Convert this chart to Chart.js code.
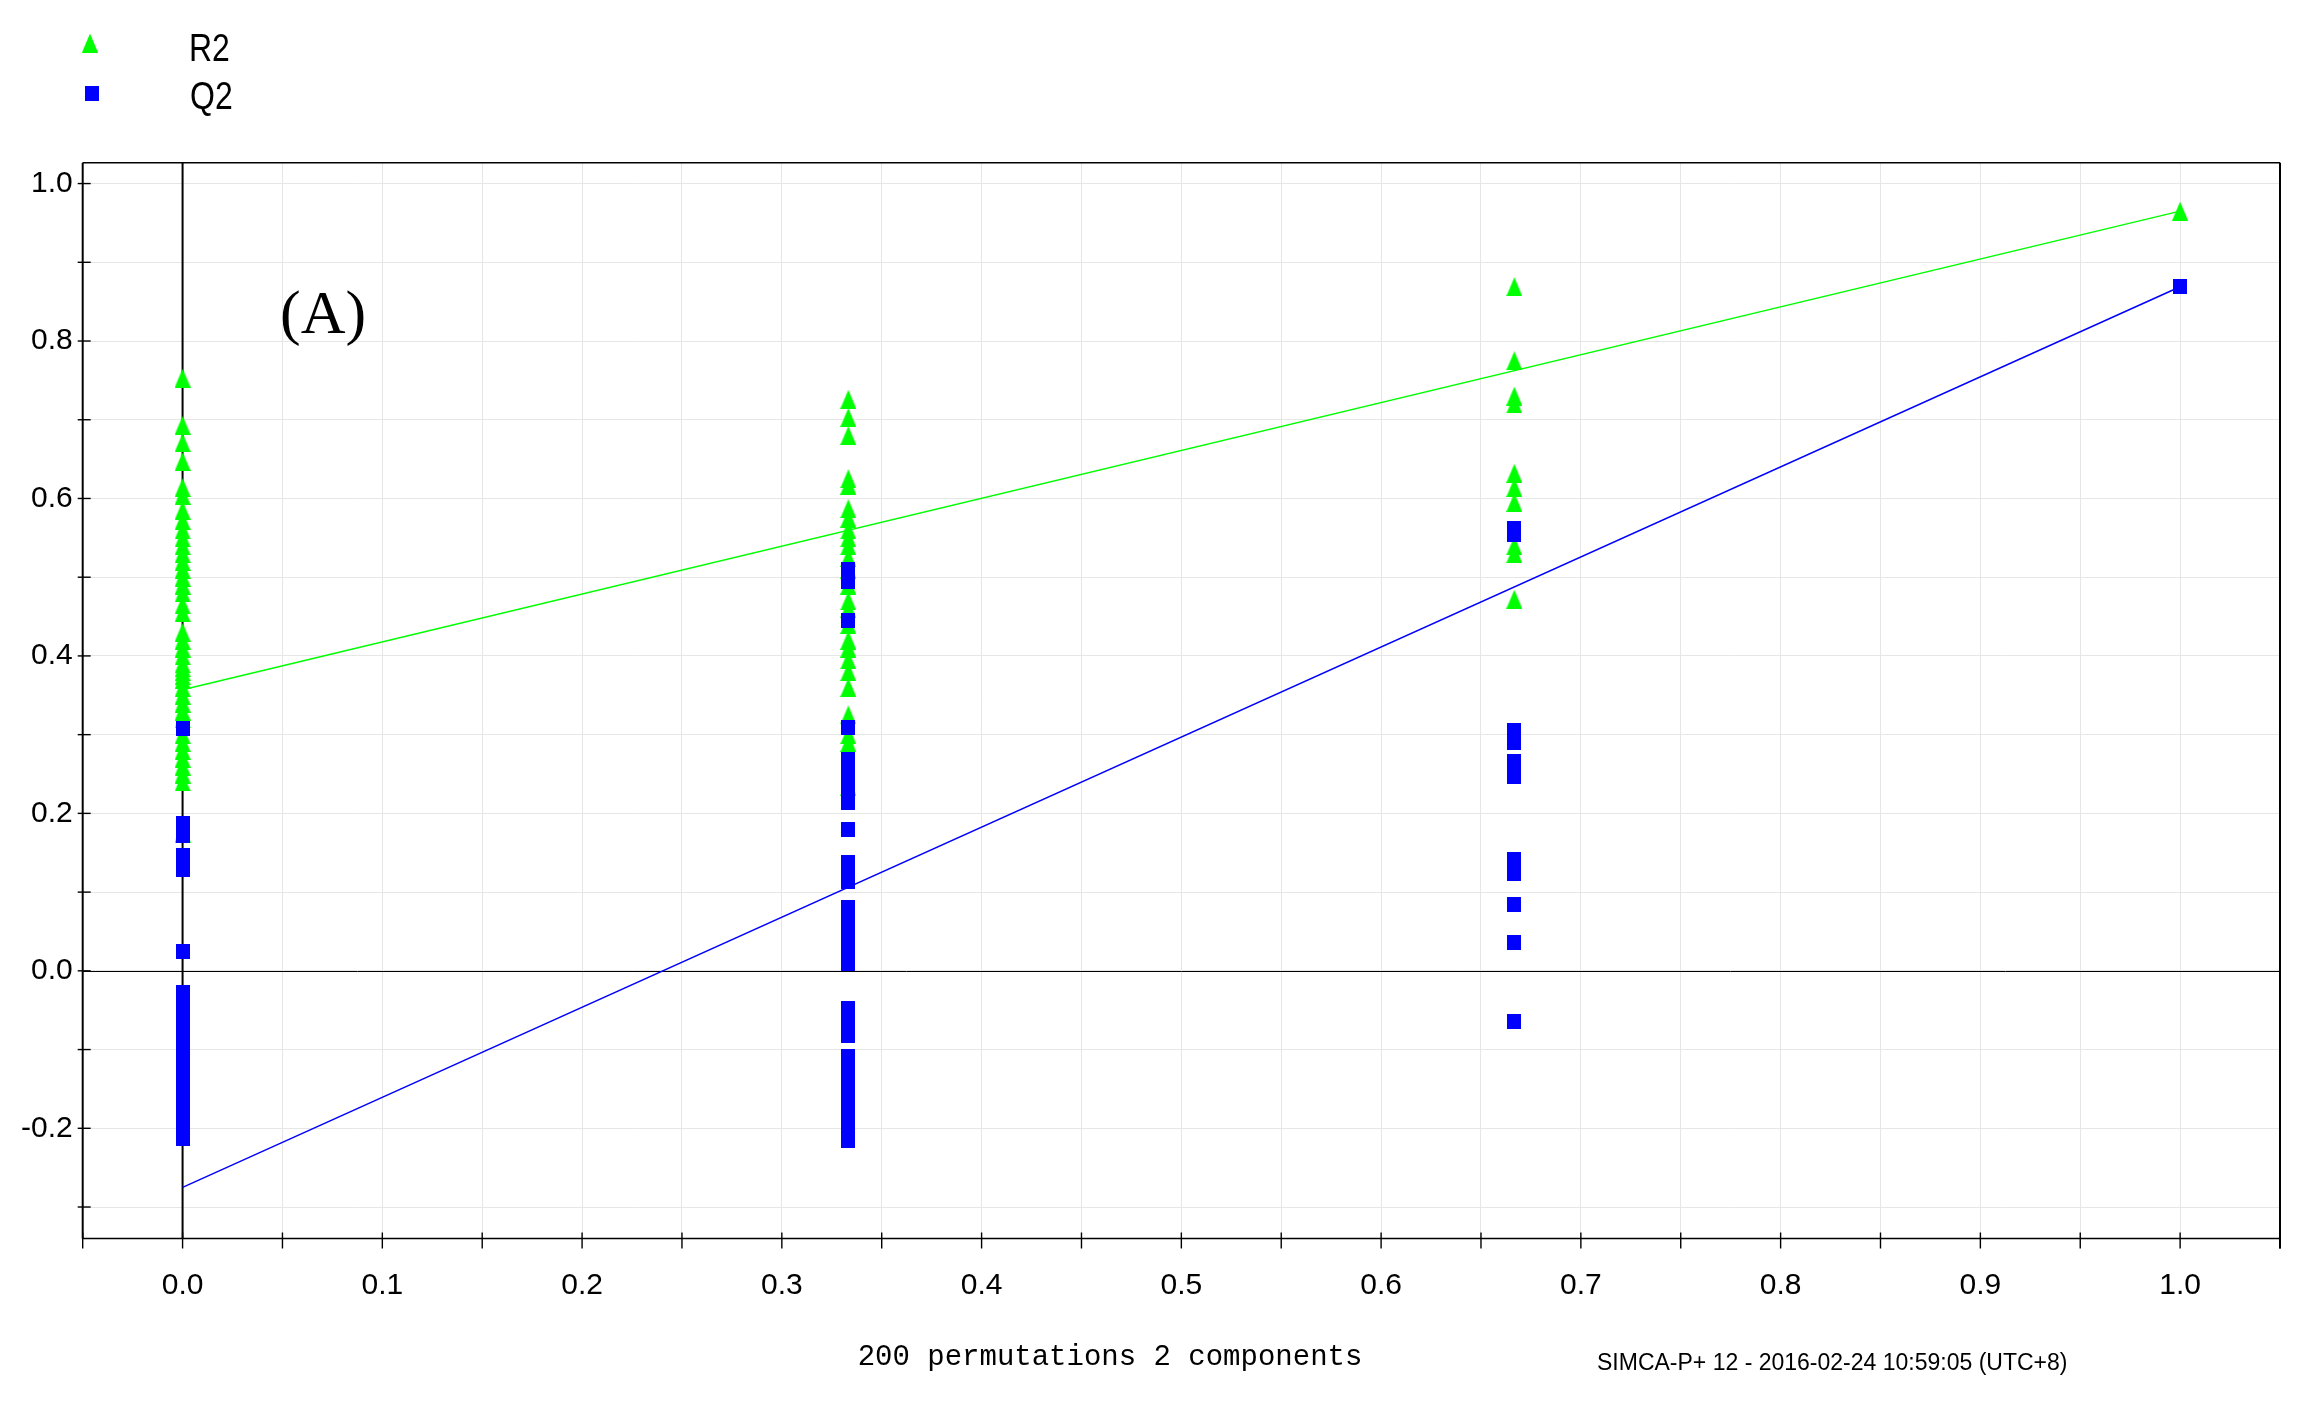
<!DOCTYPE html>
<html><head><meta charset="utf-8">
<script src="https://cdn.jsdelivr.net/npm/chart.js@4/dist/chart.umd.min.js"></script>
<style>html,body{margin:0;padding:0;background:#fff;} #wrap{position:relative;width:2312px;height:1407px;} canvas{display:block}</style>
</head><body><div id="wrap"><canvas id="c" width="2312" height="1407"></canvas></div>
<script>
// ---- data ----
const permX = [0, 0.3333, 0.6667, 1.0];
const r2Col0 = [0.753, 0.693, 0.671, 0.647, 0.614, 0.604, 0.585, 0.572, 0.56, 0.55, 0.54, 0.53, 0.52, 0.51, 0.50, 0.49, 0.48, 0.465, 0.455, 0.43, 0.42, 0.41, 0.40, 0.39, 0.385, 0.38, 0.375, 0.37, 0.36, 0.35, 0.34, 0.33, 0.32, 0.30, 0.29, 0.28, 0.27, 0.26, 0.25, 0.24, 0.175];
const q2Col0 = [0.308, 0.187, 0.172, 0.146, 0.129, 0.025, -0.028, -0.04, -0.053, -0.066, -0.08, -0.093, -0.106, -0.12, -0.133, -0.147, -0.16, -0.173, -0.186, -0.2, -0.213];
const r2Col1 = [0.726, 0.703, 0.68, 0.625, 0.617, 0.587, 0.575, 0.56, 0.55, 0.54, 0.525, 0.51, 0.49, 0.47, 0.46, 0.44, 0.42, 0.41, 0.395, 0.38, 0.36, 0.325, 0.30, 0.29, 0.234];
const q2Col1 = [0.51, 0.495, 0.445, 0.309, 0.268, 0.255, 0.241, 0.228, 0.214, 0.179, 0.138, 0.126, 0.114, 0.081, 0.068, 0.055, 0.042, 0.03, 0.02, 0.009, -0.048, -0.065, -0.082, -0.109, -0.122, -0.136, -0.15, -0.163, -0.177, -0.19, -0.203, -0.215];
const r2Col2 = [0.869, 0.775, 0.73, 0.72, 0.632, 0.614, 0.595, 0.54, 0.53, 0.472];
const q2Col2 = [0.562, 0.554, 0.305, 0.29, 0.266, 0.247, 0.141, 0.124, 0.084, 0.036, -0.064];
const r2Col3 = [0.965];
const q2Col3 = [0.869];
const r2Intercept = 0.357;
const q2Intercept = -0.275;
const xTickValues = [-0.05,0,0.05,0.1,0.15,0.2,0.25,0.3,0.35,0.4,0.45,0.5,0.55,0.6,0.65,0.7,0.75,0.8,0.85,0.9,0.95,1.0,1.05];
const xTickLabels = ['', '0.0','', '0.1','', '0.2','', '0.3','', '0.4','', '0.5','', '0.6','', '0.7','', '0.8','', '0.9','', '1.0',''];
const yTickValues = [-0.3,-0.2,-0.1,0,0.1,0.2,0.3,0.4,0.5,0.6,0.7,0.8,0.9,1.0];
const yTickLabels = ['', '-0.2','', '0.0','', '0.2','', '0.4','', '0.6','', '0.8','', '1.0'];
const legendLabels = ['R2', 'Q2'];
const xTitle = '200 permutations 2 components';
const stamp = 'SIMCA-P+ 12 - 2016-02-24 10:59:05 (UTC+8)';
const panelLabel = '(A)';

// ---- marker images ----
const GREEN = '#00ff00', BLUE = '#0000ff';
function triImg() {
  const c = document.createElement('canvas'); c.width = 16; c.height = 19;
  const x = c.getContext('2d'); x.fillStyle = GREEN;
  x.beginPath(); x.moveTo(8, 0); x.lineTo(16, 19); x.lineTo(0, 19); x.closePath(); x.fill();
  return c;
}
function sqImg() {
  const c = document.createElement('canvas'); c.width = 14; c.height = 15;
  const x = c.getContext('2d'); x.fillStyle = BLUE; x.fillRect(0, 0, 14, 15);
  return c;
}
const TRI = triImg(), SQ = sqImg();

const r2Cols = [r2Col0, r2Col1, r2Col2, r2Col3];
const q2Cols = [q2Col0, q2Col1, q2Col2, q2Col3];
const r2Pts = [].concat(...permX.map((x, i) => r2Cols[i].map(y => ({x, y}))));
const q2Pts = [].concat(...permX.map((x, i) => q2Cols[i].map(y => ({x, y}))));
const r2Line = [{x: 0, y: r2Intercept}, {x: permX[3], y: r2Col3[0]}];
const q2Line = [{x: 0, y: q2Intercept}, {x: permX[3], y: q2Col3[0]}];

function stretchedText(ctx, text, x, y, sy) {
  ctx.save(); ctx.translate(x, y); ctx.scale(1, sy); ctx.fillText(text, 0, 0); ctx.restore();
}

const framePlugin = {
  id: 'frame',
  beforeDatasetsDraw(chart) {
    const {ctx, chartArea: a, scales: {x, y}} = chart;
    ctx.save();
    ctx.strokeStyle = '#000';
    const x0 = x.getPixelForValue(0), y0 = y.getPixelForValue(0);
    ctx.lineWidth = 2;
    ctx.beginPath(); ctx.moveTo(x0, a.top); ctx.lineTo(x0, a.bottom); ctx.stroke();
    ctx.lineWidth = 1;
    ctx.beginPath(); ctx.moveTo(a.left, Math.round(y0) + 0.5); ctx.lineTo(a.right, Math.round(y0) + 0.5); ctx.stroke();
    ctx.restore();
  },
  afterDatasetsDraw(chart) {
    const {ctx, chartArea: a, scales: {x, y}} = chart;
    ctx.save();
    ctx.strokeStyle = '#000';
    ctx.lineWidth = 1.4;
    ctx.beginPath(); ctx.moveTo(a.left, a.top); ctx.lineTo(a.right, a.top); ctx.stroke();
    ctx.beginPath(); ctx.moveTo(a.left, a.bottom); ctx.lineTo(a.right, a.bottom); ctx.stroke();
    ctx.lineWidth = 2;
    ctx.beginPath(); ctx.moveTo(a.left, a.top); ctx.lineTo(a.left, a.bottom); ctx.stroke();
    ctx.beginPath(); ctx.moveTo(a.right, a.top); ctx.lineTo(a.right, a.bottom + 10); ctx.stroke();
    ctx.lineWidth = 1.4;
    y.ticks.forEach(t => {
      const p = y.getPixelForValue(t.value);
      ctx.beginPath(); ctx.moveTo(a.left - 5, p); ctx.lineTo(a.left + 8, p); ctx.stroke();
    });
    x.ticks.forEach(t => {
      const p = x.getPixelForValue(t.value);
      ctx.beginPath(); ctx.moveTo(p, a.bottom - 6); ctx.lineTo(p, a.bottom + 10); ctx.stroke();
    });
    ctx.restore();
  },
  afterDraw(chart) {
    const ctx = chart.ctx;
    ctx.save();
    ctx.drawImage(TRI, 90 - 8, 43 - 9.5);
    ctx.drawImage(SQ, 91.5 - 7, 93 - 7.5);
    ctx.fillStyle = '#000';
    ctx.font = '32px "Liberation Sans", Arial, sans-serif';
    ctx.textBaseline = 'alphabetic'; ctx.textAlign = 'left';
    stretchedText(ctx, legendLabels[0], 189, 61, 1.2);
    stretchedText(ctx, legendLabels[1], 190, 109, 1.2);
    ctx.font = '62px "Liberation Serif", "Times New Roman", serif';
    ctx.fillText(panelLabel, 280, 333);
    ctx.font = '29px "Liberation Mono", "Courier New", monospace';
    ctx.textAlign = 'center';
    ctx.fillText(xTitle, 1110, 1365);
    ctx.font = '23px "Liberation Sans", Arial, sans-serif';
    ctx.textAlign = 'left';
    ctx.fillText(stamp, 1597, 1370);
    ctx.restore();
  }
};

new Chart(document.getElementById('c'), {
  type: 'scatter',
  data: {
    datasets: [
      {label: 'Q2', data: q2Pts, pointStyle: SQ, pointRadius: 7, backgroundColor: BLUE, borderColor: BLUE, order: 1},
      {label: 'R2', data: r2Pts, pointStyle: TRI, pointRadius: 8, backgroundColor: GREEN, borderColor: GREEN, order: 2},
      {label: 'Q2 line', data: q2Line, showLine: true, pointRadius: 0, borderColor: BLUE, borderWidth: 1.5, order: 3},
      {label: 'R2 line', data: r2Line, showLine: true, pointRadius: 0, borderColor: GREEN, borderWidth: 1.5, order: 4}
    ]
  },
  options: {
    responsive: false, animation: false, devicePixelRatio: 1, events: [],
    layout: {padding: {left: 0, right: 32, top: 162.7, bottom: 0}},
    plugins: {legend: {display: false}, tooltip: {enabled: false}},
    scales: {
      x: {
        type: 'linear', min: -0.05, max: 1.05,
        afterBuildTicks: s => { s.ticks = xTickValues.map(v => ({value: v})); },
        afterFit: s => { s.height = 1407 - 1238.5; },
        ticks: {
          autoSkip: false, maxRotation: 0, padding: 29, color: '#000',
          font: {family: '"Liberation Sans", Arial, sans-serif', size: 30},
          callback: (v, i) => xTickLabels[i]
        },
        grid: {color: '#e6e6e6', lineWidth: 1, drawTicks: false},
        border: {display: false}
      },
      y: {
        type: 'linear', min: -0.34, max: 1.0265,
        afterBuildTicks: s => { s.ticks = yTickValues.map(v => ({value: v})); },
        afterFit: s => { s.width = 82.7; },
        ticks: {
          autoSkip: false, padding: 10, color: '#000',
          font: {family: '"Liberation Sans", Arial, sans-serif', size: 30},
          callback: (v, i) => yTickLabels[i]
        },
        grid: {color: '#e6e6e6', lineWidth: 1, drawTicks: false},
        border: {display: false}
      }
    }
  },
  plugins: [framePlugin]
});
</script>
</body></html>
